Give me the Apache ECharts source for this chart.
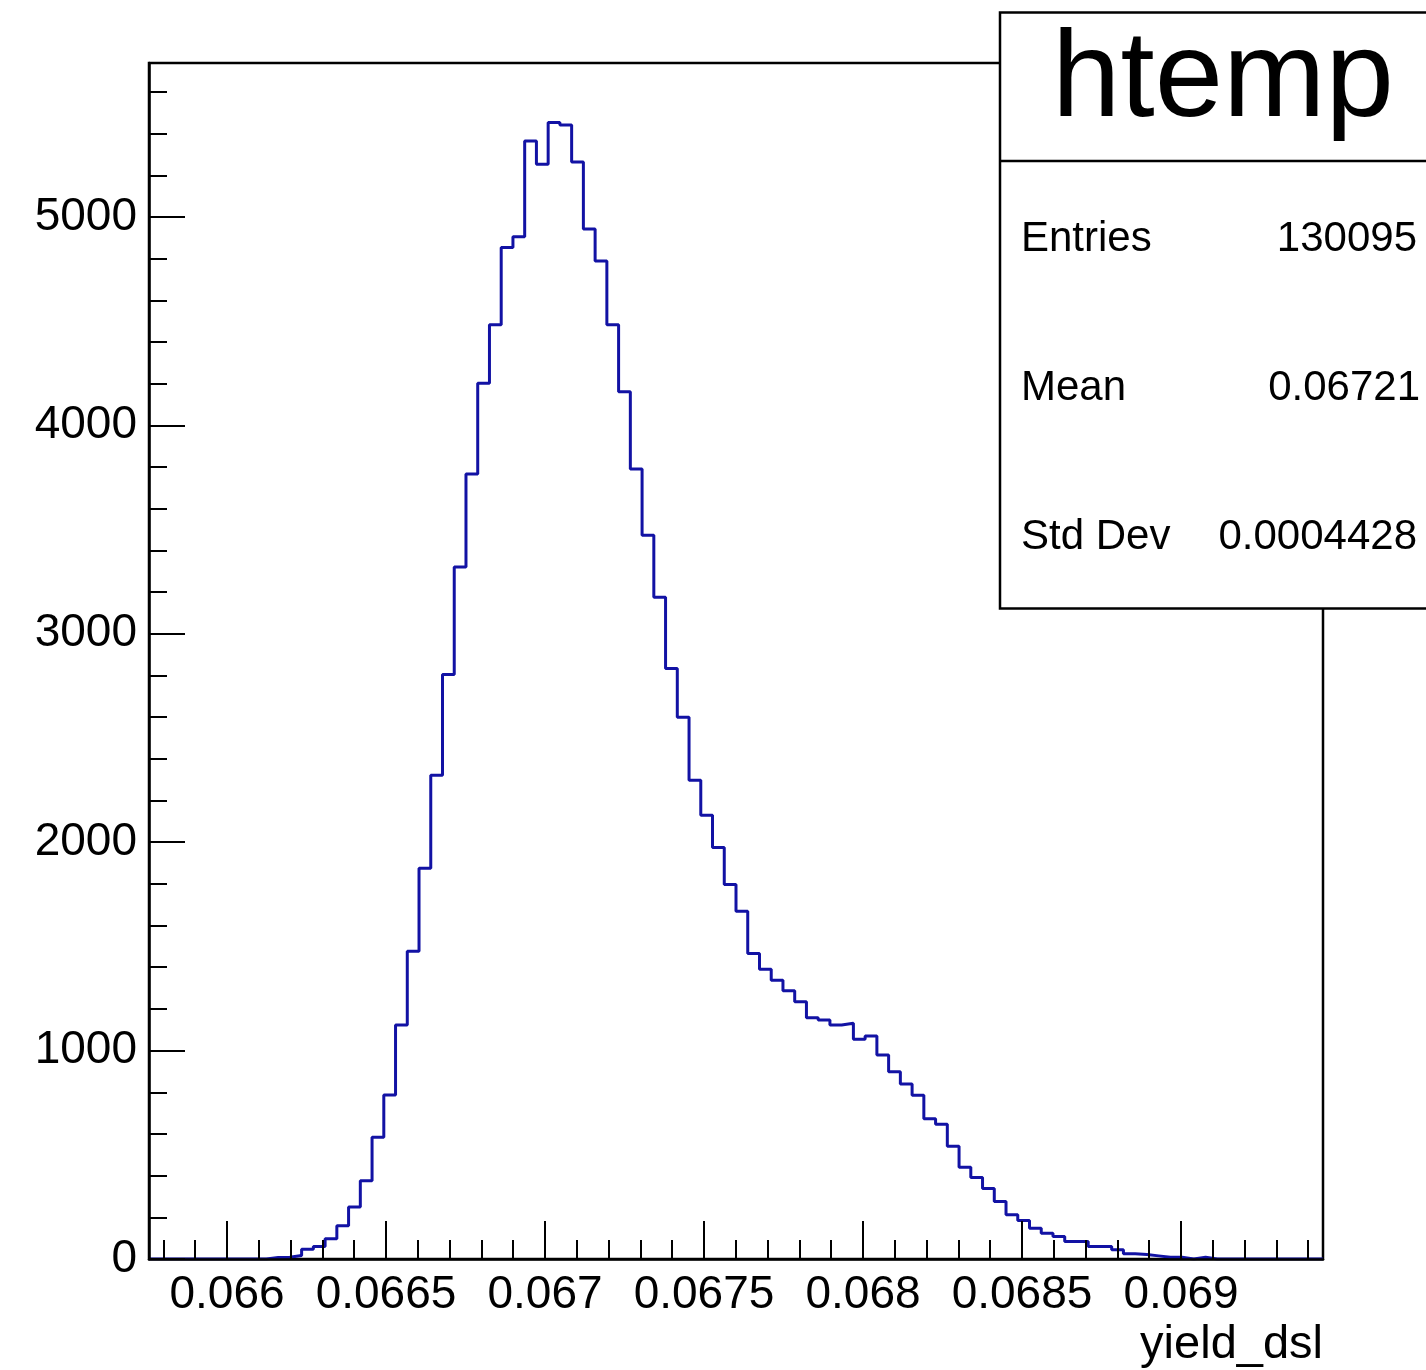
<!DOCTYPE html>
<html>
<head>
<meta charset="utf-8">
<script src="https://cdn.jsdelivr.net/npm/echarts@6/dist/echarts.min.js"></script>
<style>
html,body{margin:0;padding:0;background:#fff;}
#chart{width:1426px;height:1370px;}
</style>
</head>
<body>
<div id="chart"></div>
<script>
// ---- data (100 bins) ----
const xMin = 0.0657547;
const xMax = 0.0694465;
const nBins = 100;
const counts = [
  0, 0, 0, 0, 0, 0, 0, 0, 0, 0,
  7, 8, 17, 47, 60, 97, 159, 249, 376, 584,
  787, 1123, 1477, 1875, 2321, 2805, 3320, 3767, 4202, 4483,
  4854, 4905, 5365, 5253, 5453, 5442, 5264, 4943, 4789, 4483,
  4162, 3791, 3473, 3176, 2834, 2599, 2297, 2129, 1974, 1797,
  1669, 1466, 1390, 1338, 1287, 1234, 1158, 1147, 1123, 1131,
  1055, 1070, 979, 899, 840, 786, 673, 647, 541, 440,
  391, 338, 276, 212, 185, 148, 124, 108, 84, 84,
  60, 60, 44, 25, 22, 15, 8, 8, 0, 8,
  0, 0, 0, 0, 0, 0, 0, 0, 0, 0
];
const yMax = 5739;
const xMajorTicks = [0.066, 0.0665, 0.067, 0.0675, 0.068, 0.0685, 0.069];
const xTickLabels = ['0.066', '0.0665', '0.067', '0.0675', '0.068', '0.0685', '0.069'];
const yMajorTicks = [0, 1000, 2000, 3000, 4000, 5000];
const yTickLabels = ['0', '1000', '2000', '3000', '4000', '5000'];
const xAxisTitle = 'yield_dsl';
const histName = 'htemp';
const statsLabels = ['Entries', 'Mean', 'Std Dev'];
const statsValues = ['130095', '0.06721', '0.0004428'];

// ---- derived ----
const binW = (xMax - xMin) / nBins;
const stepData = counts.map((c, i) => [xMin + i * binW, c]);
stepData.push([xMax, counts[nBins - 1]]);

const xMinorTicks = [];
for (let k = 658; k <= 694; k++) xMinorTicks.push(+(k * 0.0001).toFixed(4));
const yMinorTicks = [];
for (let v = 0; v <= 5600; v += 200) yMinorTicks.push(v);

const FONT = '"Liberation Sans", Arial, Helvetica, sans-serif';
const black = '#000';

const chart = echarts.init(document.getElementById('chart'), null, {renderer: 'canvas'});

const option = {
  backgroundColor: '#fff',
  animation: false,
  grid: {
    left: 149, right: 103, top: 63, bottom: 111,
    show: true, borderColor: black, borderWidth: 2.5, backgroundColor: 'transparent'
  },
  xAxis: [
    {
      type: 'value', min: xMin, max: xMax, position: 'bottom', z: 5,
      axisLine: {show: true, lineStyle: {color: black, width: 2.5}},
      axisTick: {show: true, inside: true, length: 38, customValues: xMajorTicks,
                 lineStyle: {color: black, width: 2}},
      axisLabel: {show: true, customValues: xMajorTicks, margin: 13,
                  color: black, fontSize: 46, fontFamily: FONT,
                  formatter: (v) => {
                    const i = xMajorTicks.findIndex(t => Math.abs(t - v) < 1e-9);
                    return i >= 0 ? xTickLabels[i] : '';
                  }},
      splitLine: {show: false},
      name: xAxisTitle, nameLocation: 'end', nameGap: 0,
      nameTextStyle: {color: black, fontSize: 47, fontFamily: FONT,
                      align: 'right', verticalAlign: 'top', padding: [63, 0, 0, 0]}
    },
    {
      type: 'value', min: xMin, max: xMax, position: 'bottom', z: 5,
      axisLine: {show: false},
      axisTick: {show: true, inside: true, length: 19, customValues: xMinorTicks,
                 lineStyle: {color: black, width: 2}},
      axisLabel: {show: false},
      splitLine: {show: false}
    }
  ],
  yAxis: [
    {
      type: 'value', min: 0, max: yMax, position: 'left', z: 5,
      axisLine: {show: true, lineStyle: {color: black, width: 2.5}},
      axisTick: {show: true, inside: true, length: 36, customValues: yMajorTicks,
                 lineStyle: {color: black, width: 2}},
      axisLabel: {show: true, customValues: yMajorTicks, margin: 12,
                  color: black, fontSize: 46, fontFamily: FONT,
                  formatter: (v) => {
                    const i = yMajorTicks.indexOf(v);
                    return i >= 0 ? yTickLabels[i] : '';
                  }},
      splitLine: {show: false}
    },
    {
      type: 'value', min: 0, max: yMax, position: 'left', z: 5,
      axisLine: {show: false},
      axisTick: {show: true, inside: true, length: 18, customValues: yMinorTicks,
                 lineStyle: {color: black, width: 2}},
      axisLabel: {show: false},
      splitLine: {show: false}
    }
  ],
  series: [{
    type: 'line',
    name: histName,
    xAxisIndex: 0, yAxisIndex: 0,
    data: stepData,
    step: 'end',
    showSymbol: false,
    symbol: 'none',
    z: 2,
    lineStyle: {color: '#1212a4', width: 3},
    clip: true
  }],
  graphic: [
    {type: 'rect', z: 100, shape: {x: 1000, y: 12.5, width: 470, height: 596},
     style: {fill: '#fff', stroke: black, lineWidth: 2.5}},
    {type: 'line', z: 101, shape: {x1: 1000, y1: 161, x2: 1470, y2: 161},
     style: {stroke: black, lineWidth: 2.5}},
    {type: 'text', z: 102, x: 1223, y: 82,
     style: {text: histName, fill: black, fontSize: 123, fontFamily: FONT,
             align: 'center', verticalAlign: 'middle'}},
    {type: 'text', z: 102, x: 1021, y: 239,
     style: {text: statsLabels[0], fill: black, fontSize: 42, fontFamily: FONT, align: 'left', verticalAlign: 'middle'}},
    {type: 'text', z: 102, x: 1417, y: 239,
     style: {text: statsValues[0], fill: black, fontSize: 42, fontFamily: FONT, align: 'right', verticalAlign: 'middle'}},
    {type: 'text', z: 102, x: 1021, y: 388,
     style: {text: statsLabels[1], fill: black, fontSize: 42, fontFamily: FONT, align: 'left', verticalAlign: 'middle'}},
    {type: 'text', z: 102, x: 1420, y: 388,
     style: {text: statsValues[1], fill: black, fontSize: 42, fontFamily: FONT, align: 'right', verticalAlign: 'middle'}},
    {type: 'text', z: 102, x: 1021, y: 537,
     style: {text: statsLabels[2], fill: black, fontSize: 42, fontFamily: FONT, align: 'left', verticalAlign: 'middle'}},
    {type: 'text', z: 102, x: 1417, y: 537,
     style: {text: statsValues[2], fill: black, fontSize: 42, fontFamily: FONT, align: 'right', verticalAlign: 'middle'}}
  ]
};
chart.setOption(option);
</script>
</body>
</html>
